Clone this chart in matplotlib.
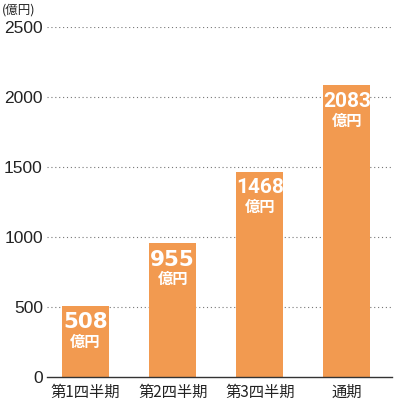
import matplotlib
matplotlib.use("Agg")
import matplotlib.pyplot as plt

categories = ["第1四半期", "第2四半期", "第3四半期", "通期"]
values = [508, 955, 1468, 2083]
yticks = [0, 500, 1000, 1500, 2000, 2500]
unit_label = "(億円)"
value_unit = "億円"

plt.rcParams['font.family'] = ['Noto Sans CJK JP', 'DejaVu Sans']

fig = plt.figure(figsize=(4.0, 4.05), dpi=100)
ax = fig.add_axes([0.1175, 0.069, 0.8625, 0.8643])

color = "#F29A50"
x = list(range(len(categories)))
bars = ax.bar(x, values, width=0.54, color=color, zorder=2)

ax.set_ylim(0, 2500)
ax.set_xlim(-0.4425, 3.517)
ax.set_yticks(yticks)
ax.set_yticklabels([str(v) for v in yticks], fontsize=12.5, family=['Liberation Sans', 'DejaVu Sans'])
ax.set_xticks(x)
ax.set_xticklabels(categories, fontsize=11)
ax.tick_params(axis='both', length=0, colors="#222222")
ax.tick_params(axis='y', pad=3)
ax.tick_params(axis='x', pad=5)

for s in ["top", "right", "left"]:
    ax.spines[s].set_visible(False)
ax.spines["bottom"].set_color("#333333")
ax.spines["bottom"].set_linewidth(1.0)

for v in yticks[1:]:
    ax.axhline(v, color="#777777", linestyle=(0, (1, 2.5)), linewidth=0.8, zorder=1)

for xi, v in zip(x, values):
    s = str(v)
    if len(s) >= 4:
        fam, fs = ['Roboto', 'DejaVu Sans'], 15
    else:
        fam, fs = ['DejaVu Sans'], 15.5
    ax.annotate(s, xy=(xi, v), xytext=(0, -4.5), textcoords="offset points",
                ha="center", va="top", color="white", fontsize=fs, fontweight="bold",
                family=fam, zorder=3)
    ax.annotate(value_unit, xy=(xi, v), xytext=(0, -20), textcoords="offset points",
                ha="center", va="top", color="white", fontsize=11, fontweight="bold",
                zorder=3)

fig.text(0.005, 0.975, unit_label, fontsize=9, ha="left", va="center", color="#222222")

fig.savefig("out.png", dpi=100)
